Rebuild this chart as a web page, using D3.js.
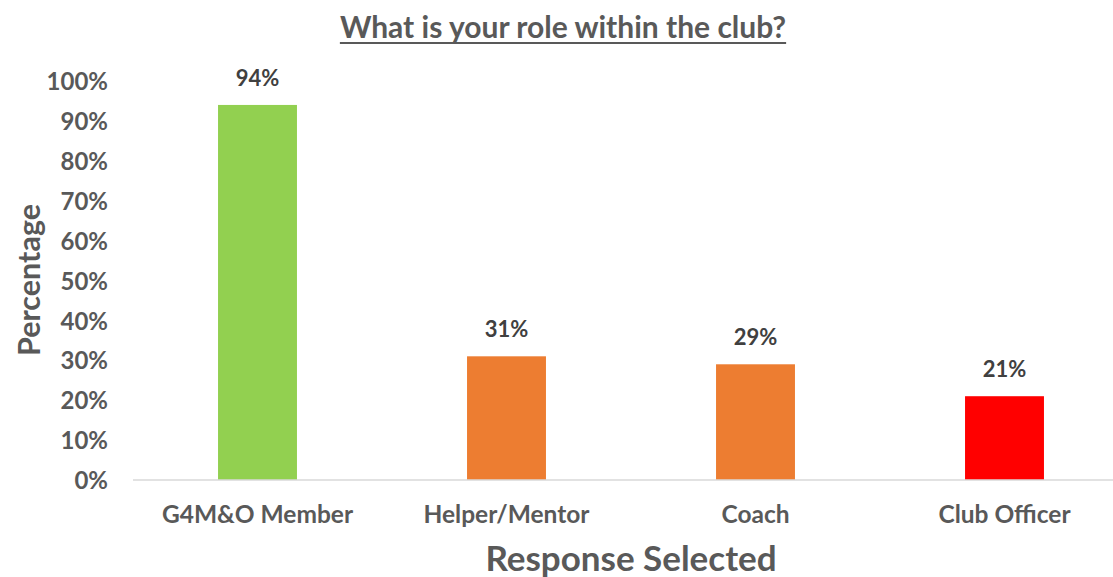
<!DOCTYPE html>
<html>
<head>
<meta charset="utf-8">
<script src="https://cdn.jsdelivr.net/npm/d3@7"></script>
<style>
  html, body { margin: 0; padding: 0; background: #fff; }
  svg { display: block; }
  text { font-family: Lato, "Open Sans", sans-serif; font-weight: bold; }
</style>
</head>
<body>
<svg id="chart" width="1113" height="577"></svg>
<script>
// Survey responses: share of respondents selecting each role
const categories = ["G4M&O Member", "Helper/Mentor", "Coach", "Club Officer"];
const values = [94, 31, 29, 21];
const barColors = ["#92D050", "#ED7D31", "#ED7D31", "#FF0000"];
const yTicks = [0, 10, 20, 30, 40, 50, 60, 70, 80, 90, 100];

const svg = d3.select("#chart");
const W = 1113, H = 577;

const x = d3.scaleBand()
  .domain(categories)
  .range([133, 1129])
  .paddingInner(0.683)
  .paddingOuter(0.3415);

const y = d3.scaleLinear().domain([0, 100]).range([480, 81]);

// Title with underline
const title = svg.append("text")
  .attr("x", 563).attr("y", 38)
  .attr("text-anchor", "middle")
  .attr("fill", "#595959")
  .attr("font-size", 30)
  .text("What is your role within the club?");
const tb = title.node().getBBox();
svg.append("line")
  .attr("x1", tb.x).attr("x2", tb.x + tb.width)
  .attr("y1", 43).attr("y2", 43)
  .attr("stroke", "#595959").attr("stroke-width", 2);

// Y axis tick labels (no axis line)
const yAxis = d3.axisLeft(y)
  .tickValues(yTicks)
  .tickFormat(d => d + "%")
  .tickSize(0)
  .tickPadding(0);
const gy = svg.append("g").attr("transform", "translate(108,0)").call(yAxis);
gy.select(".domain").remove();
gy.selectAll("text")
  .attr("fill", "#595959")
  .attr("font-size", 24)
  .attr("font-family", "Lato, sans-serif")
  .attr("font-weight", "bold")
  .attr("dy", "0.36em");

// Bars
svg.append("g").selectAll("rect")
  .data(categories)
  .join("rect")
  .attr("x", d => x(d))
  .attr("width", x.bandwidth())
  .attr("y", (d, i) => y(values[i]))
  .attr("height", (d, i) => y(0) - y(values[i]))
  .attr("fill", (d, i) => barColors[i]);

// Category axis
const xAxis = d3.axisBottom(x).tickSize(0).tickPadding(0);
const gx = svg.append("g").attr("transform", "translate(0,480)").call(xAxis);
gx.select(".domain").remove();
svg.append("line")
  .attr("x1", 133).attr("x2", W)
  .attr("y1", 480).attr("y2", 480)
  .attr("stroke", "#d9d9d9").attr("stroke-width", 1.5);
gx.selectAll("text")
  .attr("fill", "#595959")
  .attr("font-size", 24.5)
  .attr("font-family", "Lato, sans-serif")
  .attr("font-weight", "bold")
  .attr("dy", 0)
  .attr("y", 43);

// Value labels above bars
svg.append("g").selectAll("text")
  .data(categories)
  .join("text")
  .attr("x", d => x(d) + x.bandwidth() / 2)
  .attr("y", (d, i) => y(values[i]) - 19)
  .attr("text-anchor", "middle")
  .attr("fill", "#404040")
  .attr("font-size", 22)
  .text((d, i) => values[i] + "%");

// Axis titles
svg.append("text")
  .attr("x", 631).attr("y", 571)
  .attr("text-anchor", "middle")
  .attr("fill", "#595959")
  .attr("font-size", 35)
  .text("Response Selected");

svg.append("text")
  .attr("transform", "translate(40,280) rotate(-90)")
  .attr("text-anchor", "middle")
  .attr("fill", "#595959")
  .attr("font-size", 30.5)
  .text("Percentage");
</script>
</body>
</html>
